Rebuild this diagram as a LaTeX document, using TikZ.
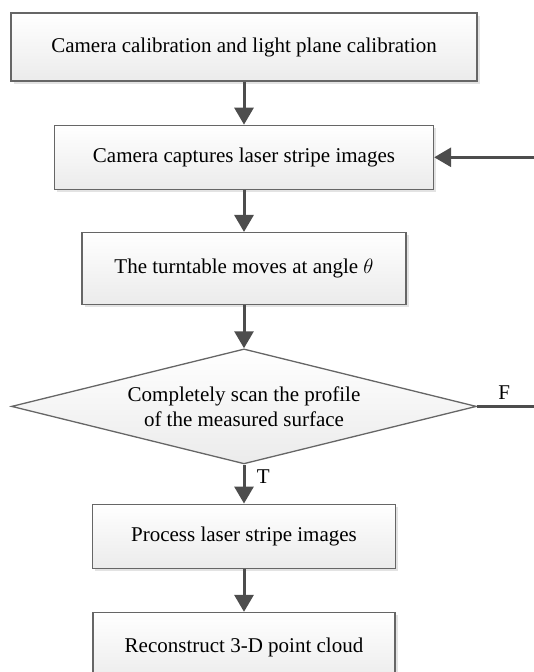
\documentclass[tikz,border=0pt]{standalone}
\usepackage{fontspec}
\setmainfont{Liberation Serif}
\usetikzlibrary{arrows.meta,positioning,shapes.geometric,shadows}
\definecolor{edgegray}{HTML}{666666}
\definecolor{arrowgray}{HTML}{4D4D4D}
\definecolor{fillbot}{HTML}{EBEBEB}

\begin{document}
\begin{tikzpicture}[
  x=1pt,y=1pt,
  >={Triangle[length=17pt,width=19pt]},
  node distance=43pt,
  font=\fontsize{21}{25}\selectfont,
  stepbox/.style={draw=edgegray,line width=1.3pt,top color=white,bottom color=fillbot,
    minimum height=64pt,inner sep=0pt,
    drop shadow={shadow xshift=2.5pt,shadow yshift=-2.5pt,fill=black!22}},
  test/.style={diamond,aspect=4.04,draw=edgegray,line width=1.3pt,top color=white,bottom color=fillbot,
    minimum width=465pt,minimum height=115pt,inner sep=0pt,align=center},
  flow/.style={->,line width=3pt,draw=arrowgray}
]
  \useasboundingbox (0,0) rectangle (533,-672);
  \node[stepbox,minimum width=466pt,minimum height=68pt] (calib) at (244,-47) {Camera calibration and light plane calibration};
  \node[stepbox,minimum width=379pt,below=of calib] (capture) {Camera captures laser stripe images};
  \node[stepbox,minimum width=324pt,minimum height=72pt,below=42pt of capture] (turn) {The turntable moves at angle $\theta$};
  \node[test,below=of turn] (check) {Completely scan the profile\\of the measured surface};
  \node[stepbox,minimum width=303pt,below=39pt of check] (process) {Process laser stripe images};
  \node[stepbox,minimum width=302pt,minimum height=70pt,below=of process] (rebuild) {Reconstruct 3-D point cloud};

  \coordinate[right=100pt of capture.east] (back);
  \coordinate[right=60pt of check.east] (fend);

  \draw[flow] (calib) -- (capture);
  \draw[flow] (capture) -- (turn);
  \draw[flow] (turn) -- (check);
  \draw[flow] (check) -- node[right,pos=0.3,xshift=8pt,text=black] {T} (process);
  \draw[flow] (process) -- (rebuild);
  \draw[flow] (back) -- (capture.east);
  \draw[line width=3pt,draw=arrowgray] (check.east) -- node[above,xshift=-3pt,yshift=2pt,text=black] {F} (fend);
\end{tikzpicture}
\end{document}
